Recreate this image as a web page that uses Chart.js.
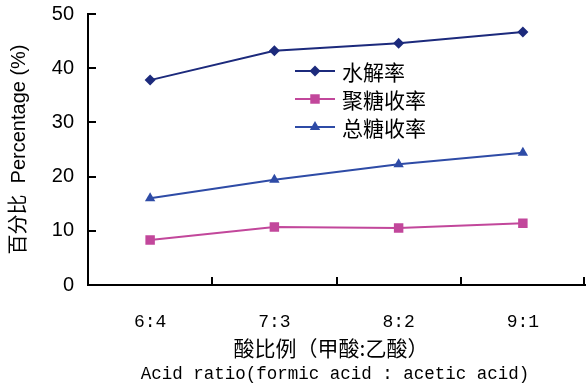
<!DOCTYPE html>
<html lang="zh">
<head>
    <meta charset="UTF-8">
    <title>酸比例</title>
    <script src="https://cdn.jsdelivr.net/npm/chart.js"></script>
    <style>
        body { margin: 0; padding: 0; background: #fff; }
        #chart { display: block; }
    </style>
</head>
<body>
    <canvas id="chart" width="586" height="384"></canvas>
    <script>
        // data
        const categories = ['6:4', '7:3', '8:2', '9:1'];
        const hydrolysis = [37.8, 43.2, 44.6, 46.7];      // 水解率
        const polySugar = [8.3, 10.7, 10.5, 11.4];        // 聚糖收率
        const totalSugar = [16.0, 19.4, 22.3, 24.4];      // 总糖收率
        const seriesNames = ['水解率', '聚糖收率', '总糖收率'];
        const yTicks = [0, 10, 20, 30, 40, 50];
        const xTitleCn = '酸比例（甲酸:乙酸）';
        const xTitleEn = 'Acid ratio(formic acid : acetic acid)';

        const colors = ['#1c2a7c', '#c2479b', '#2e4ba6'];
        const shapes = ['rectRot', 'rect', 'triangle'];
        const radii = [5.5, 6.7, 6];

        function ds(i, values) {
            return {
                label: seriesNames[i], data: values,
                borderColor: colors[i], backgroundColor: colors[i],
                borderWidth: 2, pointStyle: shapes[i], pointRadius: radii[i],
                pointBorderWidth: 0, fill: false, tension: 0
            };
        }

        // inward tick marks, two-font x title, line/marker legend
        const decor = {
            id: 'decor',
            afterDraw(chart) {
                const ctx = chart.ctx;
                const x = chart.scales.x, y = chart.scales.y;
                ctx.save();
                ctx.strokeStyle = '#000';
                ctx.lineWidth = 2;
                ctx.beginPath();
                yTicks.forEach(v => {
                    const py = Math.round(y.getPixelForValue(v));
                    ctx.moveTo(x.left, py); ctx.lineTo(x.left + 8, py);
                });
                const step = (x.right - x.left) / categories.length;
                for (let i = 1; i <= categories.length; i++) {
                    const px = Math.round(x.left + step * i) - (i === categories.length ? 1 : 0);
                    ctx.moveTo(px, y.bottom); ctx.lineTo(px, y.bottom - 8);
                }
                ctx.stroke();

                // x title
                ctx.fillStyle = '#000';
                ctx.textAlign = 'center';
                ctx.textBaseline = 'middle';
                ctx.font = '21px "Noto Sans CJK SC"';
                ctx.fillText(xTitleCn, 331, 348);
                ctx.font = '17.5px "Liberation Mono"';
                ctx.fillText(xTitleEn, 335, 374);

                // legend
                const lx = 295, ly = 71, gap = 28;
                chart.data.datasets.forEach((d, i) => {
                    const cy = ly + i * gap;
                    ctx.strokeStyle = d.borderColor;
                    ctx.lineWidth = 2;
                    ctx.beginPath();
                    ctx.moveTo(lx, cy); ctx.lineTo(lx + 40, cy);
                    ctx.stroke();
                    ctx.fillStyle = d.backgroundColor;
                    Chart.helpers.drawPoint(ctx, { pointStyle: d.pointStyle, radius: d.pointRadius, borderWidth: 0 }, lx + 20, cy);
                    ctx.fillStyle = '#000';
                    ctx.font = '21px "Noto Sans CJK SC"';
                    ctx.textAlign = 'left';
                    ctx.fillText(d.label, lx + 47, cy + 1);
                });
                ctx.restore();
            }
        };

        new Chart(document.getElementById('chart'), {
            type: 'line',
            data: {
                labels: categories,
                datasets: [ds(0, hydrolysis), ds(1, polySugar), ds(2, totalSugar)]
            },
            options: {
                responsive: false,
                animation: false,
                layout: { autoPadding: false, padding: { top: 14, right: 1, left: 0, bottom: 0 } },
                plugins: { legend: { display: false }, tooltip: { enabled: false } },
                scales: {
                    x: {
                        offset: true,
                        grid: { display: false, drawTicks: false },
                        border: { color: '#000', width: 2 },
                        ticks: { color: '#000', padding: 26, font: { family: 'Liberation Mono', size: 18 } },
                        afterFit(s) { s.height = 99; s.paddingLeft = 0; s.paddingRight = 0; }
                    },
                    y: {
                        min: 0, max: 50,
                        grid: { display: false, drawTicks: false },
                        border: { color: '#000', width: 2 },
                        ticks: { stepSize: 10, color: '#000', padding: 14, font: { family: 'Liberation Sans', size: 20 } },
                        title: {
                            display: true,
                            text: '百分比  Percentage (%)',
                            color: '#000',
                            padding: { top: 7 },
                            font: { family: '"Liberation Sans", "Noto Sans CJK SC"', size: 20 }
                        },
                        afterFit(s) { s.width = 88; s.paddingTop = 0; s.paddingBottom = 0; }
                    }
                }
            },
            plugins: [decor]
        });
    </script>
</body>
</html>
